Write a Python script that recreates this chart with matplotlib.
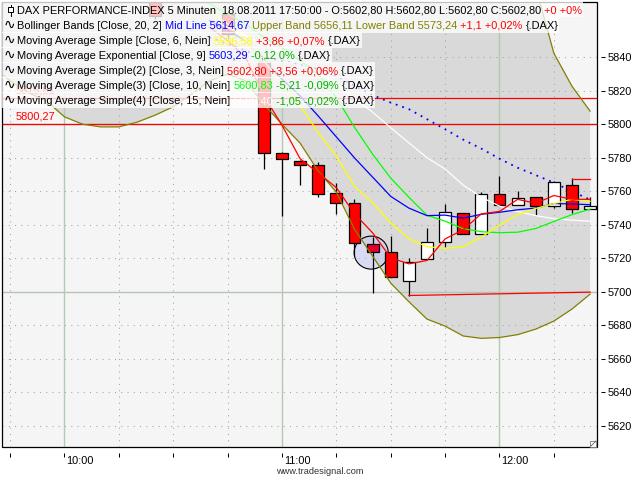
import matplotlib
matplotlib.use('Agg')
import matplotlib.pyplot as plt
from matplotlib.patches import Rectangle, Ellipse
from matplotlib.transforms import blended_transform_factory, ScaledTranslation

plt.rcParams['font.family'] = ['Liberation Sans', 'DejaVu Sans']

# ---------------- data ----------------
candle_times = ["10:25", "10:45", "10:55", "11:00", "11:05", "11:10", "11:15", "11:20", "11:25",
                "11:30", "11:35", "11:40", "11:45", "11:50", "11:55", "12:00", "12:05", "12:10",
                "12:15", "12:20", "12:25"]
opens = [5873, 5866, 5837, 5783.2, 5778.4, 5776.0, 5759.3, 5752.8, 5728.7, 5723.5, 5706.6,
         5719.3, 5729.5, 5746.8, 5734.3, 5758.2, 5751.6, 5756.4, 5751.0, 5763.7, 5749.4]
highs = [5875, 5868, 5840, 5783.5, 5779.0, 5777.3, 5764.7, 5755.2, 5732.5, 5733.4, 5720.0,
         5738.0, 5752.4, 5747.0, 5759.7, 5769.3, 5760.5, 5756.5, 5766.0, 5767.7, 5756.4]
lows = [5863, 5851, 5773.4, 5745.4, 5763.9, 5756.4, 5746.4, 5721.5, 5699.0, 5708.6, 5697.6,
        5719.3, 5726.9, 5734.3, 5734.3, 5751.6, 5751.6, 5745.6, 5749.8, 5746.8, 5749.4]
closes = [5865, 5854, 5783.2, 5779.6, 5775.5, 5758.2, 5752.8, 5728.9, 5723.5, 5708.6, 5717.9,
          5729.5, 5747.4, 5734.3, 5758.2, 5751.6, 5755.8, 5751.3, 5765.3, 5749.2, 5751.2]
highlight_time = "11:25"

ma_times = ["10:40", "10:45", "10:50", "10:55", "11:00", "11:05", "11:10", "11:15", "11:20",
            "11:25", "11:30", "11:35", "11:40", "11:45", "11:50", "11:55", "12:00", "12:05",
            "12:10", "12:15", "12:20", "12:25"]
sma3 = [5858, 5850, 5840, 5817, 5799.5, 5779.5, 5771.0, 5762.2, 5746.7, 5735.2, 5720.3, 5716.7,
        5718.7, 5731.6, 5737.1, 5746.6, 5748.0, 5755.2, 5752.9, 5757.5, 5755.3, 5755.2]
sma6 = [5868, 5860, 5850, 5838, 5824, 5811.5, 5795.0, 5781.0, 5763.0, 5753.1, 5741.3, 5731.7,
        5726.9, 5726.0, 5726.9, 5732.7, 5739.8, 5746.1, 5749.8, 5752.7, 5755.2, 5754.1]
ema9 = [5862, 5856, 5850, 5838, 5827, 5817, 5805, 5792.5, 5780.0, 5768.5, 5757.0, 5750.0,
        5745.5, 5745.8, 5744.0, 5746.3, 5747.5, 5749.0, 5750.0, 5752.7, 5752.5, 5752.0]
sma10 = [5872, 5866, 5860, 5852, 5846, 5838, 5830, 5816, 5798.3, 5782.2, 5767.9, 5756.5,
         5745.7, 5742.2, 5737.7, 5735.9, 5735.3, 5735.6, 5737.8, 5742.0, 5746.1, 5749.4]
sma15 = [5862, 5858, 5853, 5848, 5843, 5837, 5831, 5824, 5815.5, 5807.3, 5798.0, 5789.0,
         5780.1, 5773.3, 5763.7, 5756.5, 5751.2, 5747.9, 5745.5, 5743.7, 5742.8, 5742.2]
bb_mid = [5852, 5848, 5844, 5840, 5838, 5836, 5833, 5829, 5823.0, 5817.5, 5813.0, 5809.1,
          5803.1, 5797.1, 5790.9, 5785.5, 5779.5, 5774.1, 5769.7, 5765.2, 5760.0, 5755.0]

band_times = ["09:40", "09:45", "09:50", "09:55", "10:00", "10:05", "10:10", "10:15", "10:20",
              "10:25", "10:30", "10:35", "10:40", "10:45", "10:50", "10:55", "11:00", "11:05",
              "11:10", "11:15", "11:20", "11:25", "11:30", "11:35", "11:40", "11:45", "11:50",
              "11:55", "12:00", "12:05", "12:10", "12:15", "12:20", "12:25"]
bb_upper = [5935, 5932, 5930, 5928, 5927, 5926, 5926, 5927, 5928, 5930, 5932, 5934, 5935, 5936,
            5940, 5950, 5958, 5962, 5968, 5972, 5978, 5978, 5975, 5972, 5962, 5950, 5945, 5935,
            5925, 5905, 5882, 5842.5, 5822.8, 5807.9]
bb_lower = [5835, 5826, 5819, 5814, 5804.5, 5800.1, 5798.5, 5798.5, 5801.3, 5805.5, 5810.5, 5818,
            5826, 5830, 5826, 5812, 5800.1, 5788.8, 5772.1, 5759.5, 5737.4, 5721.3, 5705.2,
            5694.1, 5683.7, 5679.5, 5673.6, 5672.2, 5672.7, 5674.4, 5677.7, 5682.5, 5689.7, 5698.6]

hlines = [5815.81, 5800.27]
hline_labels = ["5815,81", "5800,27"]
support_times = ["11:35", "12:25"]
support_vals = [5697.8, 5699.8]
resist_times = ["12:20", "12:25"]
resist_vals = [5767.6, 5767.6]

y_ticks = [5620, 5640, 5660, 5680, 5700, 5720, 5740, 5760, 5780, 5800, 5820, 5840]
x_tick_times = ["09:45", "10:00", "10:15", "10:30", "10:45", "11:00", "11:15", "11:30",
                "11:45", "12:00", "12:15"]
x_tick_labels = ["", "10:00", "", "", "", "11:00", "", "", "", "12:00", ""]

legend_rows = [
    [("DAX PERFORMANCE-INDEX 5 Minuten  18.08.2011 17:50:00 - O:5602,80 H:5602,80 L:5602,80 C:5602,80 ", "#000000"),
     ("+0 +0%", "#ff0000")],
    [("Bollinger Bands [Close, 20, 2] ", "#000000"), ("Mid Line 5614,67", "#0000ff"),
     (" Upper Band 5656,11 Lower Band 5573,24", "#808000"), (" +1,1 +0,02%", "#ff0000"),
     (" {.DAX}", "#000000")],
    [("Moving Average Simple [Close, 6, Nein] ", "#000000"), ("5596,58", "#ffff00"),
     (" +3,86 +0,07%", "#ff0000"), (" {.DAX}", "#000000")],
    [("Moving Average Exponential [Close, 9] ", "#000000"), ("5603,29", "#0000ff"),
     (" -0,12 0%", "#00b000"), (" {.DAX}", "#000000")],
    [("Moving Average Simple(2) [Close, 3, Nein] ", "#000000"), ("5602,80 +3,56 +0,06%", "#ff0000"),
     (" {.DAX}", "#000000")],
    [("Moving Average Simple(3) [Close, 10, Nein] ", "#000000"), ("5600,83", "#00ff00"),
     (" -5,21 -0,09%", "#00b000"), (" {.DAX}", "#000000")],
    [("Moving Average Simple(4) [Close, 15, Nein] ", "#000000"), ("5598,40", "#ffffff"),
     (" -1,05 -0,02%", "#00b000"), (" {.DAX}", "#000000")],
]


def tmin(s):
    h, m = s.split(':')
    return (int(h) - 10) * 60 + int(m)


# ---------------- figure ----------------
W, H = 640, 480
fig = plt.figure(figsize=(6.4, 4.8), dpi=100)
fig.patch.set_facecolor('white')
L, R, T, B = 2, 597, 1.5, 447
ax = fig.add_axes([L / W, 1 - B / H, (R - L) / W, (B - T) / H])
ax.set_facecolor('#f5f5f5')
ax.set_xlim(-17.24, 146.9)
ax.set_ylim(5607.3, 5873.4)

FS = 7.9

# band fill
bt = [tmin(s) for s in band_times]
ax.fill_between(bt, bb_lower, bb_upper, color='#d9d9d9', lw=0, zorder=0.5)

# grid
for v in y_ticks:
    if v in (5700, 5800):
        ax.axhline(v, color='#b4c4b4', lw=1.0, zorder=1)
    else:
        ax.axhline(v, color='#a4a4a4', lw=0.75, dashes=(1, 5), zorder=1)
for s, lab in zip(x_tick_times, x_tick_labels):
    if lab:
        ax.axvline(tmin(s), color='#b4c8b4', lw=1.0, zorder=1)
    else:
        ax.axvline(tmin(s), color='#a4a4a4', lw=0.75, dashes=(1, 5), zorder=1)

# highlight circle
ax.add_patch(Ellipse((tmin(highlight_time) - 0.4, 5723.4), width=9.4, height=19.7,
                     facecolor=(0.76, 0.78, 0.96, 0.55), edgecolor='black', lw=0.8, zorder=1.5))

# bollinger mid (dotted)
mt = [tmin(s) for s in ma_times]
ax.plot(mt, bb_mid, color='#0000ff', lw=1.3, dashes=(1.0, 2.8), zorder=1.8)

# horizontal price lines
ltrans = blended_transform_factory(ax.transAxes, ax.transData)
for v, lab in zip(hlines, hline_labels):
    ax.axhline(v, color='#ff0000', lw=0.9, zorder=2)
    ax.text(14 / (R - L), v + 1.2, lab, color='#ff0000', fontsize=FS, transform=ltrans,
            ha='left', va='bottom', zorder=2)

# candles
cw = 3.3
for s, o, h, l, c in zip(candle_times, opens, highs, lows, closes):
    t = tmin(s)
    ax.plot([t, t], [l, h], color='black', lw=0.9, zorder=2.9, solid_capstyle='butt')
    if c >= o:
        fc = 'white'
    else:
        fc = '#e8002a' if s == highlight_time else '#ff0000'
    ax.add_patch(Rectangle((t - cw / 2, min(o, c)), cw, max(abs(c - o), 0.6),
                           facecolor=fc, edgecolor='black', lw=0.9, zorder=3))

# indicator lines
ax.plot(bt, bb_lower, color='#808000', lw=0.9, zorder=4)
ax.plot(bt, bb_upper, color='#808000', lw=0.9, zorder=4)
ax.plot(mt, sma15, color='#ffffff', lw=0.9, zorder=4)
ax.plot(mt, sma10, color='#00ff00', lw=0.9, zorder=4)
ax.plot(mt, ema9, color='#0000ff', lw=0.9, zorder=4)
ax.plot(mt, sma6, color='#ffff00', lw=0.9, zorder=4)
ax.plot(mt, sma3, color='#ff0000', lw=0.9, zorder=4.1)
ax.plot([tmin(s) for s in support_times], support_vals, color='#ff0000', lw=0.9, zorder=4)
ax.plot([tmin(s) for s in resist_times], resist_vals, color='#ff0000', lw=0.9, zorder=4)

# axes / ticks
for sp in ax.spines.values():
    sp.set_visible(False)
ax.spines['right'].set_position(('outward', 3))
ax.spines['bottom'].set_position(('outward', 4))
ax.yaxis.tick_right()
ax.set_yticks(y_ticks)
ax.set_yticklabels([str(v) for v in y_ticks])
ax.set_xticks([tmin(s) for s in x_tick_times])
ax.set_xticklabels([])
ax.tick_params(axis='y', which='both', direction='out', length=2.9, width=0.75, pad=1.5,
               labelsize=FS, colors='black', left=False, right=True)
ax.tick_params(axis='x', which='both', direction='out', length=2.9, width=0.75, pad=1,
               labelsize=FS, colors='black')
xtrans = blended_transform_factory(ax.transData, ax.transAxes) + \
    ScaledTranslation(2 / 100, -9 / 100, fig.dpi_scale_trans)
for s, lab in zip(x_tick_times, x_tick_labels):
    if lab:
        ax.text(tmin(s), 0, lab, transform=xtrans, ha='left', va='top', fontsize=FS, clip_on=False)

ax.add_patch(Rectangle((0, 0), 1, 1, transform=ax.transAxes, fill=False, edgecolor='black',
                       lw=0.9, clip_on=False, zorder=10))

# corner glyph
fig.add_artist(Rectangle(((R - 7) / W, 1 - B / H), 6 / W, 6 / H, transform=fig.transFigure,
                         facecolor='white', edgecolor='#808080', lw=0.6, zorder=2))
fig.add_artist(plt.Line2D([(R - 6) / W, (R - 1) / W], [1 - (B - 1) / H, 1 - (B - 6) / H],
                          transform=fig.transFigure, color='#606060', lw=0.6, zorder=2))

fig.text(320 / W, 1 - 472 / H, "www.tradesignal.com", ha='center', va='center', fontsize=6.7,
         color='#333333')

# ---------------- legend ----------------
renderer = fig.canvas.get_renderer()


def width_of(s):
    t = fig.text(0, 0, s, fontsize=FS)
    w = t.get_window_extent(renderer).width
    t.remove()
    return w


space_w = width_of("a a") - width_of("aa")

baselines = [13.5, 29, 44, 59, 74, 89, 104]
for k, (row, bl) in enumerate(zip(legend_rows, baselines)):
    x = 17
    for s, c in row:
        lead = len(s) - len(s.lstrip(' '))
        trail = len(s) - len(s.rstrip(' '))
        x += lead * space_w
        core = s.strip(' ')
        t = fig.text(x / W, 1 - bl / H, core, color=c, fontsize=FS, ha='left', va='baseline',
                     zorder=5)
        x += t.get_window_extent(renderer).width
        x += trail * space_w
    x_end = x + 1
    top = 1.5 if k == 0 else bl - 12
    bottom = bl + 3.5
    fig.add_artist(Rectangle((L / W, 1 - bottom / H), (x_end - L) / W, (bottom - top) / H,
                             transform=fig.transFigure, facecolor='white', alpha=0.76,
                             edgecolor='none', zorder=1))
    if k == 0:
        fig.add_artist(plt.Line2D([10.5 / W, 10.5 / W], [1 - 4.5 / H, 1 - 15.5 / H],
                                  transform=fig.transFigure, color='black', lw=0.7, zorder=5))
        fig.add_artist(Rectangle((8 / W, 1 - 12 / H), 5 / W, 5 / H, transform=fig.transFigure,
                                 facecolor='white', edgecolor='black', lw=0.7, zorder=5.1))
    else:
        fig.text(3.5 / W, 1 - bl / H, "\u223f", color='black', fontsize=10, ha='left',
                 va='baseline', family='DejaVu Sans', zorder=5)

fig.savefig('out.png', dpi=100)
